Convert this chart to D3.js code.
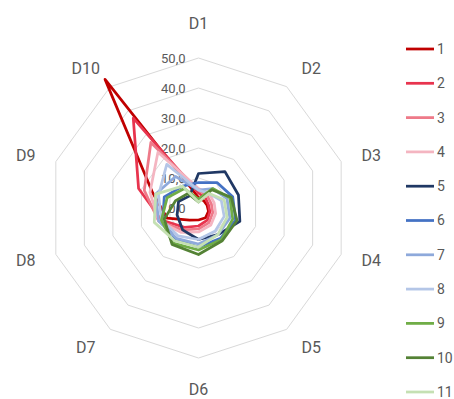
<!DOCTYPE html>
<html>
<head>
<meta charset="utf-8">
<script src="https://cdn.jsdelivr.net/npm/d3@7"></script>
<style>
  html, body { margin: 0; padding: 0; background: #fff; }
  svg { display: block; }
  text { font-family: Roboto, "Liberation Sans", Arial, sans-serif; fill: #595959; }
</style>
</head>
<body>
<svg id="chart" width="454" height="399"></svg>
<script>
const categories = ["D1", "D2", "D3", "D4", "D5", "D6", "D7", "D8", "D9", "D10"];
const seriesNames = ["1", "2", "3", "4", "5", "6", "7", "8", "9", "10", "11"];
const seriesColors = ["#C00000", "#E8344E", "#EE7A89", "#F4B5C1", "#203864", "#4472C4",
                      "#8EA9DB", "#B4C6E7", "#70AD47", "#548235", "#C5E0B3"];
const s1  = [3.5, 3, 3, 3.5, 4, 4, 5, 11, 16, 53];
const s2  = [5, 4, 3.5, 4, 5, 6, 8, 13, 21, 37];
const s3  = [6, 5, 4.5, 5, 6, 7, 9, 14, 19, 27];
const s4  = [6.5, 6, 5.5, 6, 7, 8, 10, 14, 17, 23];
const s5  = [11.5, 15, 14, 14.5, 11, 10.5, 9, 7.5, 7, 5];
const s6  = [8.5, 10.5, 12, 13, 12.5, 13, 13, 12.5, 12, 9];
const s7  = [6, 8, 10, 11, 11, 12, 12.5, 14, 15, 13];
const s8  = [6, 6, 8, 9, 9.5, 10.5, 11.5, 13, 14, 18];
const s9  = [3, 8, 11, 12, 13, 14, 14.5, 13, 11, 8];
const s10 = [2, 7.5, 11.5, 13.5, 13.5, 15.5, 15, 12, 8, 6];
const s11 = [2, 6, 9, 10, 11, 13, 13.5, 15.5, 15, 9];
const seriesValues = [s1, s2, s3, s4, s5, s6, s7, s8, s9, s10, s11];
const tickValues = [0, 10, 20, 30, 40, 50];

const svg = d3.select("#chart");
const cx = 198.5, cy = 208;
const r = d3.scaleLinear().domain([0, 50]).range([0, 150]);
const angle = d3.scaleLinear().domain([0, categories.length]).range([0, 2 * Math.PI]);
const g = svg.append("g").attr("transform", `translate(${cx},${cy})`);

// grid rings
const ring = d3.lineRadial()
  .angle((d, i) => angle(i))
  .radius(d => r(d))
  .curve(d3.curveLinearClosed);
g.selectAll("path.grid")
  .data(tickValues.filter(t => t > 0))
  .enter().append("path")
  .attr("class", "grid")
  .attr("d", t => ring(categories.map(() => t)))
  .attr("fill", "none")
  .attr("stroke", "#D9D9D9")
  .attr("stroke-width", 1);

// tick labels
const loc = d3.formatLocale({ decimal: ",", thousands: ".", grouping: [3], currency: ["", ""] });
const fmt = loc.format(".1f");
g.selectAll("text.tick")
  .data(tickValues)
  .enter().append("text")
  .attr("class", "tick")
  .attr("x", -13)
  .attr("y", t => -r(t))
  .attr("dy", "0.35em")
  .attr("text-anchor", "end")
  .attr("font-size", 13)
  .text(t => fmt(t));

// category labels (placed just outside the outer ring)
function labelPos(i) {
  const s = Math.sin(angle(i)), c = Math.cos(angle(i));
  const x = 180 * s * (1 + 0.1 * c * c);
  const y = -c * (171 + (c > 0 ? 14 : 10) * Math.pow(c, 10));
  return [x, y];
}
g.selectAll("text.cat")
  .data(categories)
  .enter().append("text")
  .attr("class", "cat")
  .attr("x", (d, i) => labelPos(i)[0])
  .attr("y", (d, i) => labelPos(i)[1])
  .attr("dy", "0.35em")
  .attr("text-anchor", "middle")
  .attr("font-size", 16)
  .text(d => d);

// series
const line = d3.lineRadial()
  .angle((d, i) => angle(i))
  .radius(d => r(d))
  .curve(d3.curveLinearClosed);
g.selectAll("path.series")
  .data(seriesValues)
  .enter().append("path")
  .attr("class", "series")
  .attr("d", d => line(d))
  .attr("fill", "none")
  .attr("stroke", (d, i) => seriesColors[i])
  .attr("stroke-width", 2.75)
  .attr("stroke-linejoin", "round");

// legend
const ly = d3.scalePoint().domain(seriesNames).range([49, 392]);
const leg = svg.append("g").selectAll("g")
  .data(seriesNames)
  .enter().append("g")
  .attr("transform", d => `translate(406,${ly(d)})`);
leg.append("line")
  .attr("x1", 0).attr("x2", 28).attr("y1", 0).attr("y2", 0)
  .attr("stroke", (d, i) => seriesColors[i])
  .attr("stroke-width", 2.75);
leg.append("text")
  .attr("x", 31)
  .attr("dy", "0.35em")
  .attr("font-size", 14)
  .text(d => d);
</script>
</body>
</html>
